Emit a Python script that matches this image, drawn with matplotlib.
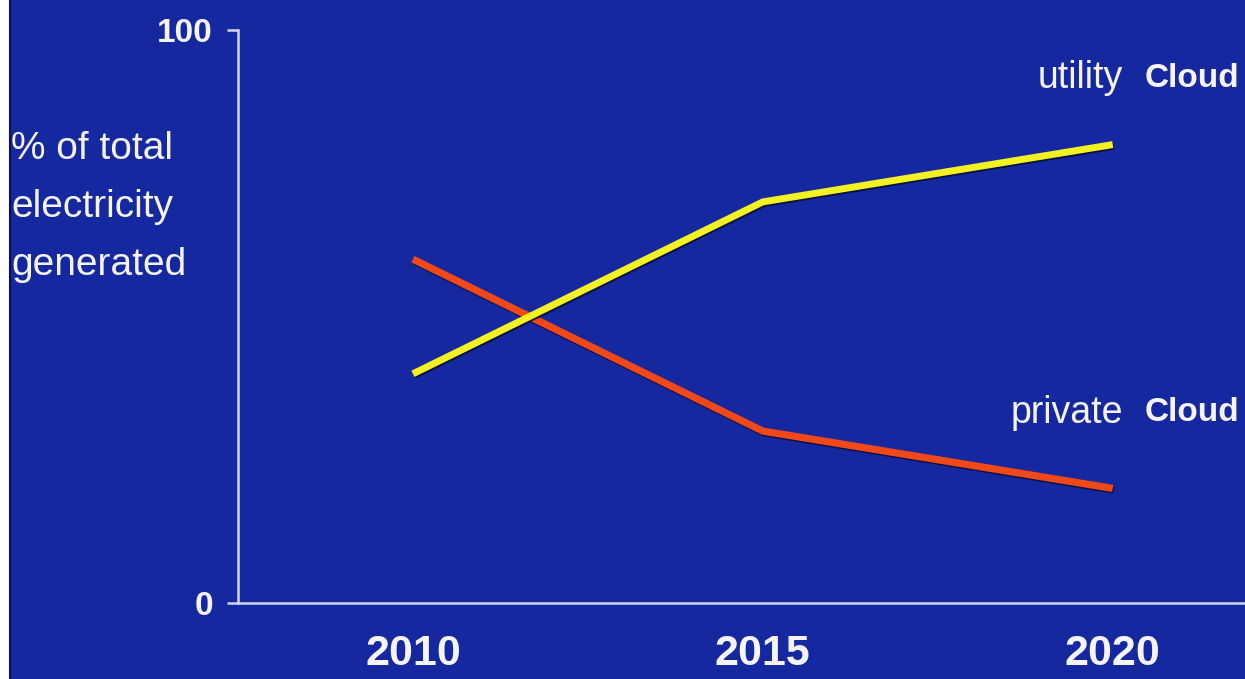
import matplotlib.pyplot as plt
import matplotlib.patheffects as pe

years = [2010, 2015, 2020]
utility_cloud = [40, 70, 80]
private_cloud = [60, 30, 20]
year_labels = ["2010", "2015", "2020"]

BG = "#1628a0"
AXIS = "#d4d4f0"
TEXT = "#f4f4fa"
FONT = "Liberation Sans"

fig = plt.figure(figsize=(12.45, 6.79), dpi=100)
fig.patch.set_facecolor("white")

# blue panel (white strip on the left like the original slide)
panel = fig.add_axes([10 / 1245, 0, 1 - 10 / 1245, 1])
panel.set_facecolor(BG)
panel.set_xticks([])
panel.set_yticks([])
for s in panel.spines.values():
    s.set_visible(False)
panel.spines["left"].set_visible(True)
panel.spines["left"].set_color("#0a1050")
panel.spines["left"].set_linewidth(1.5)

ax = fig.add_axes([238 / 1245, 76 / 679, 1 - 238 / 1245, 573 / 679])
ax.set_facecolor("none")

shadow = [pe.SimpleLineShadow(offset=(0.8, -1.2), shadow_color="#050a30", alpha=0.8), pe.Normal()]
ax.plot(years, private_cloud, color="#f04818", linewidth=5.2,
        solid_capstyle="butt", path_effects=shadow)
ax.plot(years, utility_cloud, color="#f2f222", linewidth=5.0,
        solid_capstyle="butt", path_effects=shadow)

ax.set_xlim(2007.5, 2021.89)
ax.set_ylim(0, 100)

for side in ["top", "right"]:
    ax.spines[side].set_visible(False)
for side in ["left", "bottom"]:
    ax.spines[side].set_color(AXIS)
    ax.spines[side].set_linewidth(1.8)

ax.set_yticks([0, 100])
ax.set_yticklabels(["0", "100"], fontfamily=FONT, fontweight="bold",
                   fontsize=24, color=TEXT)
ax.tick_params(axis="y", length=8, width=1.8, color=AXIS, pad=10)

ax.set_xticks(years)
ax.set_xticklabels(year_labels, fontfamily=FONT, fontweight="bold",
                   fontsize=31, color=TEXT)
ax.tick_params(axis="x", length=0, pad=22)

# series labels at the right
ax.text(2020.15, utility_cloud[-1] + 11.6, "utility", fontfamily=FONT,
        fontsize=27, color=TEXT, ha="right", va="center")
ax.text(2020.45, utility_cloud[-1] + 11.6, "Cloud", fontfamily=FONT,
        fontweight="bold", fontsize=24, color=TEXT, ha="left", va="center")
ax.text(2020.15, private_cloud[-1] + 13.2, "private", fontfamily=FONT,
        fontsize=27, color=TEXT, ha="right", va="center")
ax.text(2020.45, private_cloud[-1] + 13.2, "Cloud", fontfamily=FONT,
        fontweight="bold", fontsize=24, color=TEXT, ha="left", va="center")

fig.text(11 / 1245, 1 - 207 / 679, "% of total\nelectricity\ngenerated",
         fontfamily=FONT, fontsize=28, color=TEXT,
         ha="left", va="center", linespacing=1.78)

fig.savefig("out.png", dpi=100, facecolor=fig.get_facecolor())
